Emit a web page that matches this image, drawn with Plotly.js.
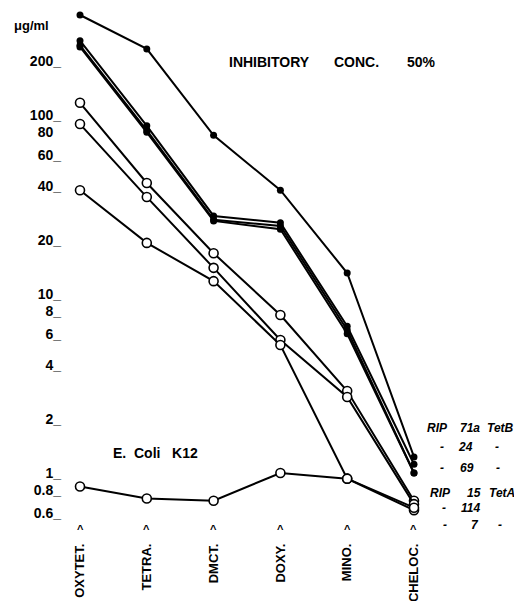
<!DOCTYPE html>
<html>
<head>
<meta charset="utf-8">
<script src="https://cdn.plot.ly/plotly-3.0.1.min.js"></script>
<style>
  html, body { margin: 0; padding: 0; background: #fff; }
  #chart { width: 514px; height: 601px; }
</style>
</head>
<body>
<div id="chart"></div>
<script>
// ---- data ----
const categories = ["OXYTET.", "TETRA.", "DMCT.", "DOXY.", "MINO.", "CHELOC."];

// filled-dot strains (µg/ml)
const filledA = [362, 234, 77, 38, 13.1, 1.23];
const filledB = [260, 87, 27.3, 25, 6.6, 1.12];
const filledC = [245, 82, 26, 24, 6.3, 1.0];
const filledD = [240, 80, 25.6, 23, 6.0, 1.0];

// open-circle strains (µg/ml)
const openE = [117, 41.7, 16.9, 7.63, 2.87, 0.70];
const openF = [89, 34.8, 14.0, 5.53, 2.66, 0.67];
const openG = [38, 19.3, 11.8, 5.19, 0.93, 0.62];
const eColiK12 = [0.84, 0.72, 0.70, 1.0, 0.93, 0.64];

const yTickVals = [0.6, 0.8, 1, 2, 4, 6, 8, 10, 20, 40, 60, 80, 100, 200];
const yTickText = ["0.6_", "0.8_", "1_", "2_", "4_", "6_", "8_", "10_", "20_", "40_", "60_", "80\u00a0\u00a0", "100_", "200_"];

// ---- geometry helpers (pixels -> paper) ----
const L = 62, T = 10, W = 392, H = 510;
const px = x => (x - L) / W;
const py = y => (T + H - y) / H;

const FONT = "Liberation Sans, Arial, Helvetica, sans-serif";

function filledTrace(vals) {
  return {
    x: categories, y: vals, type: "scatter", mode: "lines+markers",
    line: { color: "#000", width: 2 },
    marker: { symbol: "circle", size: 7, color: "#000" },
    hoverinfo: "skip", showlegend: false
  };
}
function openTrace(vals) {
  return {
    x: categories, y: vals, type: "scatter", mode: "lines+markers",
    line: { color: "#000", width: 2 },
    marker: { symbol: "circle", size: 9, color: "#fff", line: { color: "#000", width: 1.6 } },
    hoverinfo: "skip", showlegend: false
  };
}

const data = [
  filledTrace(filledA), filledTrace(filledB), filledTrace(filledC), filledTrace(filledD),
  openTrace(openE), openTrace(openF), openTrace(openG), openTrace(eColiK12)
];

function txt(text, x, y, size, opts) {
  opts = opts || {};
  return {
    text: text, xref: "paper", yref: "paper", x: px(x), y: py(y),
    xanchor: opts.xanchor || "center", yanchor: "middle", showarrow: false,
    font: { family: FONT, size: size, color: "#000", weight: "bold", style: opts.italic ? "italic" : "normal" }
  };
}

const annotations = [
  txt("\u03bcg/ml", 31, 25, 13),
  txt("INHIBITORY", 269, 62, 14),
  txt("CONC.", 356, 62, 14),
  txt("50%", 421, 62, 14),
  txt("E.  Coli   K12", 155, 453, 14),
  // right-hand strain labels
  txt("RIP", 437, 428, 12, {italic: true}), txt("71a", 470, 428, 12, {italic: true}), txt("TetB", 500, 428, 12, {italic: true}),
  txt("-", 442, 447, 12, {italic: true}), txt("24", 466, 447, 12, {italic: true}), txt("-", 497, 447, 12, {italic: true}),
  txt("-", 442, 468, 12, {italic: true}), txt("69", 467, 468, 12, {italic: true}), txt("-", 498, 468, 12, {italic: true}),
  txt("RIP", 440, 493, 12, {italic: true}), txt("15", 474, 493, 12, {italic: true}), txt("TetA", 502, 493, 12, {italic: true}),
  txt("-", 444, 508, 12, {italic: true}), txt("114", 470, 508, 12, {italic: true}),
  txt("-", 445, 525, 12, {italic: true}), txt("7", 475, 525, 12, {italic: true}), txt("-", 500, 525, 12, {italic: true})
];
// carets above each drug label
categories.forEach((c, i) => {
  annotations.push({
    text: "^", xref: "x", yref: "paper", x: i, y: py(529),
    xanchor: "center", yanchor: "middle", showarrow: false,
    font: { family: FONT, size: 11, color: "#000", weight: "bold" }
  });
});

const layout = {
  width: 514, height: 601,
  margin: { l: L, r: 514 - L - W, t: T, b: 601 - T - H, pad: 0 },
  paper_bgcolor: "#fff", plot_bgcolor: "#fff",
  showlegend: false,
  xaxis: {
    type: "category", range: [-0.2695, 5.599],
    showgrid: false, zeroline: false, showline: false, ticks: "",
    tickangle: -90, ticklabelstandoff: 20, automargin: false,
    tickfont: { family: FONT, size: 13, color: "#000", weight: "bold" }
  },
  yaxis: {
    type: "log", range: [-0.2626, 2.5866],
    showgrid: false, zeroline: false, showline: false, ticks: "",
    tickvals: yTickVals, ticktext: yTickText, automargin: false,
    tickfont: { family: FONT, size: 14, color: "#000", weight: "bold" }
  },
  annotations: annotations
};

Plotly.newPlot("chart", data, layout, { staticPlot: true, displayModeBar: false });
</script>
</body>
</html>
